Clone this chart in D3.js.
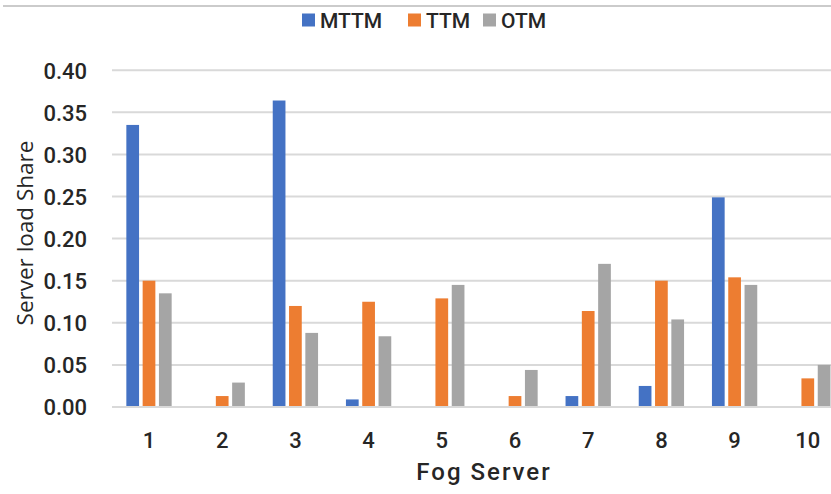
<!DOCTYPE html>
<html><head><meta charset="utf-8">
<script src="https://cdn.jsdelivr.net/npm/d3@7"></script>
<style>body{margin:0;background:#fff}svg{display:block}</style>
</head><body>
<svg id="c" width="831" height="494"></svg>
<script>
const categories = ["1","2","3","4","5","6","7","8","9","10"];
const seriesNames = ["MTTM","TTM","OTM"];
const mttm = [0.335,0,0.364,0.009,0,0,0.013,0.025,0.249,0];
const ttm  = [0.150,0.013,0.120,0.125,0.129,0.013,0.114,0.150,0.154,0.034];
const otm  = [0.135,0.029,0.088,0.084,0.145,0.044,0.170,0.104,0.145,0.050];
const yTicks = [0,0.05,0.10,0.15,0.20,0.25,0.30,0.35,0.40];
const colors = ["#4472C4","#ED7D31","#A5A5A5"];
const values = [mttm, ttm, otm];

const svg = d3.select("#c");
const tickFont = "Roboto, 'DejaVu Sans Condensed', sans-serif";

// top frame line
svg.append("line").attr("x1",3).attr("x2",831).attr("y1",6).attr("y2",6)
  .attr("stroke","#cbcbcb").attr("stroke-width",2);

const x = d3.scaleBand().domain(categories).range([112.4, 844.4]).padding(0);
const x1 = d3.scaleBand().domain(seriesNames).range([-24.45, 24.45]).paddingInner(0.22).paddingOuter(0.11);
const y = d3.scaleLinear().domain([0,0.4]).range([407, 70.2]);

// gridlines
svg.append("g").selectAll("line").data(yTicks.slice(1)).join("line")
  .attr("x1",112).attr("x2",831).attr("y1",d=>y(d)).attr("y2",d=>y(d))
  .attr("stroke","#d9d9d9").attr("stroke-width",2);

// y axis labels
const yAxis = d3.axisLeft(y).tickValues(yTicks).tickFormat(d3.format(".2f")).tickSize(0).tickPadding(0);
const gy = svg.append("g").attr("transform","translate(87,0)").call(yAxis);
gy.select(".domain").remove();
gy.selectAll("text").attr("font-family",tickFont).attr("font-size",22).attr("font-weight",500)
  .attr("fill","#262626").attr("dy","0.36em");

// bars
const groups = svg.append("g").selectAll("g").data(seriesNames).join("g")
  .attr("fill",(d,i)=>colors[i]);
groups.selectAll("rect").data((s,i)=>values[i].map((v,j)=>({s,v,c:categories[j]}))).join("rect")
  .attr("x",d=>x(d.c)+x.bandwidth()/2+x1(d.s))
  .attr("width",x1.bandwidth())
  .attr("y",d=>y(d.v))
  .attr("height",d=>y(0)-y(d.v));

// baseline
svg.append("line").attr("x1",112).attr("x2",831).attr("y1",y(0)).attr("y2",y(0))
  .attr("stroke","#d9d9d9").attr("stroke-width",2);

// x axis labels
const xAxis = d3.axisBottom(x).tickSize(0).tickPadding(0);
const gx = svg.append("g").attr("transform","translate(0,440)").call(xAxis);
gx.select(".domain").remove();
gx.selectAll("text").attr("font-family",tickFont).attr("font-size",22).attr("font-weight",500)
  .attr("fill","#262626").attr("dy","0.36em");

// axis titles
svg.append("text").attr("x",484).attr("y",471).attr("text-anchor","middle").attr("dy","0.36em")
  .attr("font-family",tickFont).attr("font-size",24).attr("font-weight",500).attr("fill","#262626")
  .attr("letter-spacing","2px").text("Fog Server");
svg.append("text").attr("transform","translate(25,233) rotate(-90)").attr("text-anchor","middle")
  .attr("dy","0.36em").attr("font-family","'Open Sans', sans-serif").attr("font-size",22.5)
  .attr("fill","#262626").text("Server load Share");

// legend
const legX = [302, 408, 483];
const leg = svg.append("g").selectAll("g").data(seriesNames).join("g")
  .attr("transform",(d,i)=>`translate(${legX[i]},0)`);
leg.append("rect").attr("x",0).attr("y",13.5).attr("width",13).attr("height",13).attr("fill",(d,i)=>colors[i]);
leg.append("text").attr("x",18).attr("y",20).attr("dy","0.36em").attr("font-family",tickFont)
  .attr("font-size",21).attr("font-weight",500).attr("fill","#262626").text(d=>d);
</script>
</body></html>
